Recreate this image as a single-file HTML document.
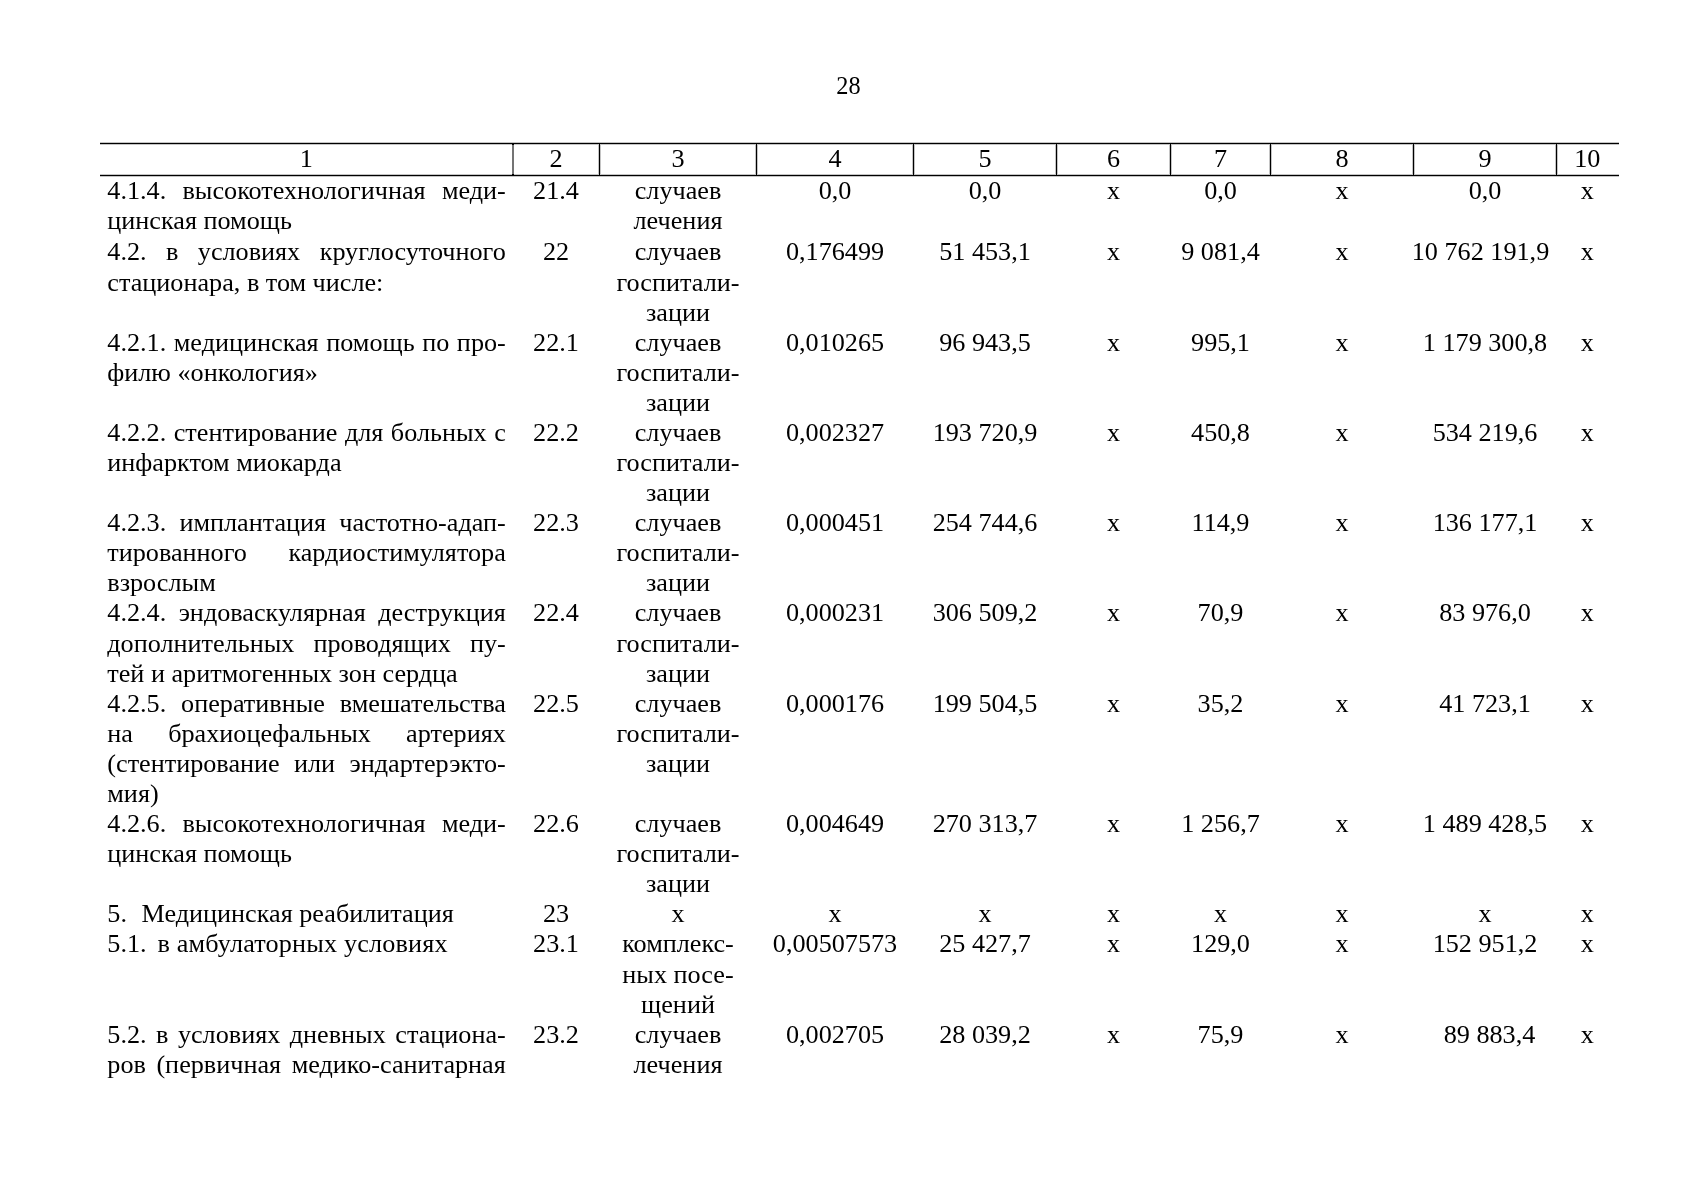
<!DOCTYPE html>
<html><head><meta charset="utf-8"><style>
html,body{margin:0;padding:0;background:#fff;}
body{width:1697px;height:1200px;position:relative;overflow:hidden;}
#pg{position:absolute;left:0;top:0;width:1697px;height:1200px;will-change:transform;}
.t{position:absolute;font-family:"Liberation Serif",serif;font-size:26.2px;line-height:30.09px;height:30.09px;color:#000;white-space:nowrap;}
.c{text-align:center;}
.l{text-align:left;}
.j{text-align:justify;text-align-last:justify;white-space:normal;}
.r{position:absolute;background:#000;}
.h{box-shadow:0 -1px 0 #c4c4c4,0 1px 0 #c4c4c4;}
.v{box-shadow:-1px 0 0 #c4c4c4,1px 0 0 #c4c4c4;}
</style></head><body><div id="pg">
<div class="r" style="left:100px;top:142px;width:1519px;height:1px;background:#c4c4c4"></div>
<div class="r" style="left:100px;top:144px;width:1519px;height:1px;background:#c4c4c4"></div>
<div class="r" style="left:100px;top:174px;width:1519px;height:1px;background:#c4c4c4"></div>
<div class="r" style="left:100px;top:176px;width:1519px;height:1px;background:#c4c4c4"></div>
<div class="r" style="left:598px;top:144px;width:1px;height:31px;background:#c4c4c4"></div>
<div class="r" style="left:600px;top:144px;width:1px;height:31px;background:#c4c4c4"></div>
<div class="r" style="left:755px;top:144px;width:1px;height:31px;background:#c4c4c4"></div>
<div class="r" style="left:757px;top:144px;width:1px;height:31px;background:#c4c4c4"></div>
<div class="r" style="left:912px;top:144px;width:1px;height:31px;background:#c4c4c4"></div>
<div class="r" style="left:914px;top:144px;width:1px;height:31px;background:#c4c4c4"></div>
<div class="r" style="left:1055px;top:144px;width:1px;height:31px;background:#c4c4c4"></div>
<div class="r" style="left:1057px;top:144px;width:1px;height:31px;background:#c4c4c4"></div>
<div class="r" style="left:1169px;top:144px;width:1px;height:31px;background:#c4c4c4"></div>
<div class="r" style="left:1171px;top:144px;width:1px;height:31px;background:#c4c4c4"></div>
<div class="r" style="left:1269px;top:144px;width:1px;height:31px;background:#c4c4c4"></div>
<div class="r" style="left:1271px;top:144px;width:1px;height:31px;background:#c4c4c4"></div>
<div class="r" style="left:1412px;top:144px;width:1px;height:31px;background:#c4c4c4"></div>
<div class="r" style="left:1414px;top:144px;width:1px;height:31px;background:#c4c4c4"></div>
<div class="r" style="left:1555px;top:144px;width:1px;height:31px;background:#c4c4c4"></div>
<div class="r" style="left:1557px;top:144px;width:1px;height:31px;background:#c4c4c4"></div>
<div class="r" style="left:100px;top:143px;width:1519px;height:1px"></div>
<div class="r" style="left:100px;top:175px;width:1519px;height:1px"></div>
<div class="r" style="left:512px;top:145px;width:2px;height:29px;background:#747474"></div>
<div class="r" style="left:512px;top:143px;width:2px;height:2px"></div>
<div class="r" style="left:512px;top:174px;width:2px;height:2px"></div>
<div class="r" style="left:599px;top:143px;width:1px;height:33px"></div>
<div class="r" style="left:756px;top:143px;width:1px;height:33px"></div>
<div class="r" style="left:913px;top:143px;width:1px;height:33px"></div>
<div class="r" style="left:1056px;top:143px;width:1px;height:33px"></div>
<div class="r" style="left:1170px;top:143px;width:1px;height:33px"></div>
<div class="r" style="left:1270px;top:143px;width:1px;height:33px"></div>
<div class="r" style="left:1413px;top:143px;width:1px;height:33px"></div>
<div class="r" style="left:1556px;top:143px;width:1px;height:33px"></div>
<div class="t c" style="left:748.50px;top:71.05px;width:200.00px;font-size:24.3px;">28</div>
<div class="t c" style="left:206.25px;top:144.41px;width:200.00px;">1</div>
<div class="t c" style="left:456.00px;top:144.41px;width:200.00px;">2</div>
<div class="t c" style="left:578.00px;top:144.41px;width:200.00px;">3</div>
<div class="t c" style="left:735.00px;top:144.41px;width:200.00px;">4</div>
<div class="t c" style="left:885.00px;top:144.41px;width:200.00px;">5</div>
<div class="t c" style="left:1013.50px;top:144.41px;width:200.00px;">6</div>
<div class="t c" style="left:1120.50px;top:144.41px;width:200.00px;">7</div>
<div class="t c" style="left:1242.00px;top:144.41px;width:200.00px;">8</div>
<div class="t c" style="left:1385.00px;top:144.41px;width:200.00px;">9</div>
<div class="t c" style="left:1487.25px;top:144.41px;width:200.00px;">10</div>
<div class="t j" style="left:107.30px;top:175.66px;width:398.50px;">4.1.4. высокотехнологичная меди-</div>
<div class="t l" style="left:107.30px;top:205.75px;width:398.50px;">цинская помощь</div>
<div class="t c" style="left:456.00px;top:175.66px;width:200.00px;">21.4</div>
<div class="t c" style="left:578.00px;top:175.66px;width:200.00px;">случаев</div>
<div class="t c" style="left:578.00px;top:205.75px;width:200.00px;">лечения</div>
<div class="t c" style="left:685.00px;top:175.66px;width:300.00px;">0,0</div>
<div class="t c" style="left:835.00px;top:175.66px;width:300.00px;">0,0</div>
<div class="t c" style="left:963.50px;top:175.66px;width:300.00px;">х</div>
<div class="t c" style="left:1070.50px;top:175.66px;width:300.00px;">0,0</div>
<div class="t c" style="left:1192.00px;top:175.66px;width:300.00px;">х</div>
<div class="t c" style="left:1335.00px;top:175.66px;width:300.00px;">0,0</div>
<div class="t c" style="left:1437.25px;top:175.66px;width:300.00px;">х</div>
<div class="t j" style="left:107.30px;top:237.41px;width:398.50px;">4.2. в условиях круглосуточного</div>
<div class="t l" style="left:107.30px;top:267.50px;width:398.50px;">стационара, в том числе:</div>
<div class="t c" style="left:456.00px;top:237.41px;width:200.00px;">22</div>
<div class="t c" style="left:578.00px;top:237.41px;width:200.00px;">случаев</div>
<div class="t c" style="left:578.00px;top:267.50px;width:200.00px;">госпитали-</div>
<div class="t c" style="left:578.00px;top:297.59px;width:200.00px;">зации</div>
<div class="t c" style="left:685.00px;top:237.41px;width:300.00px;">0,176499</div>
<div class="t c" style="left:835.00px;top:237.41px;width:300.00px;">51 453,1</div>
<div class="t c" style="left:963.50px;top:237.41px;width:300.00px;">х</div>
<div class="t c" style="left:1070.50px;top:237.41px;width:300.00px;">9 081,4</div>
<div class="t c" style="left:1192.00px;top:237.41px;width:300.00px;">х</div>
<div class="t c" style="left:1330.50px;top:237.41px;width:300.00px;">10 762 191,9</div>
<div class="t c" style="left:1437.25px;top:237.41px;width:300.00px;">х</div>
<div class="t j" style="left:107.30px;top:327.68px;width:398.50px;">4.2.1. медицинская помощь по про-</div>
<div class="t l" style="left:107.30px;top:357.77px;width:398.50px;">филю «онкология»</div>
<div class="t c" style="left:456.00px;top:327.68px;width:200.00px;">22.1</div>
<div class="t c" style="left:578.00px;top:327.68px;width:200.00px;">случаев</div>
<div class="t c" style="left:578.00px;top:357.77px;width:200.00px;">госпитали-</div>
<div class="t c" style="left:578.00px;top:387.86px;width:200.00px;">зации</div>
<div class="t c" style="left:685.00px;top:327.68px;width:300.00px;">0,010265</div>
<div class="t c" style="left:835.00px;top:327.68px;width:300.00px;">96 943,5</div>
<div class="t c" style="left:963.50px;top:327.68px;width:300.00px;">х</div>
<div class="t c" style="left:1070.50px;top:327.68px;width:300.00px;">995,1</div>
<div class="t c" style="left:1192.00px;top:327.68px;width:300.00px;">х</div>
<div class="t c" style="left:1335.00px;top:327.68px;width:300.00px;">1 179 300,8</div>
<div class="t c" style="left:1437.25px;top:327.68px;width:300.00px;">х</div>
<div class="t j" style="left:107.30px;top:417.95px;width:398.50px;">4.2.2. стентирование для больных с</div>
<div class="t l" style="left:107.30px;top:448.04px;width:398.50px;">инфарктом миокарда</div>
<div class="t c" style="left:456.00px;top:417.95px;width:200.00px;">22.2</div>
<div class="t c" style="left:578.00px;top:417.95px;width:200.00px;">случаев</div>
<div class="t c" style="left:578.00px;top:448.04px;width:200.00px;">госпитали-</div>
<div class="t c" style="left:578.00px;top:478.13px;width:200.00px;">зации</div>
<div class="t c" style="left:685.00px;top:417.95px;width:300.00px;">0,002327</div>
<div class="t c" style="left:835.00px;top:417.95px;width:300.00px;">193 720,9</div>
<div class="t c" style="left:963.50px;top:417.95px;width:300.00px;">х</div>
<div class="t c" style="left:1070.50px;top:417.95px;width:300.00px;">450,8</div>
<div class="t c" style="left:1192.00px;top:417.95px;width:300.00px;">х</div>
<div class="t c" style="left:1335.00px;top:417.95px;width:300.00px;">534 219,6</div>
<div class="t c" style="left:1437.25px;top:417.95px;width:300.00px;">х</div>
<div class="t j" style="left:107.30px;top:508.22px;width:398.50px;">4.2.3. имплантация частотно-адап-</div>
<div class="t j" style="left:107.30px;top:538.31px;width:398.50px;">тированного кардиостимулятора</div>
<div class="t l" style="left:107.30px;top:568.40px;width:398.50px;">взрослым</div>
<div class="t c" style="left:456.00px;top:508.22px;width:200.00px;">22.3</div>
<div class="t c" style="left:578.00px;top:508.22px;width:200.00px;">случаев</div>
<div class="t c" style="left:578.00px;top:538.31px;width:200.00px;">госпитали-</div>
<div class="t c" style="left:578.00px;top:568.40px;width:200.00px;">зации</div>
<div class="t c" style="left:685.00px;top:508.22px;width:300.00px;">0,000451</div>
<div class="t c" style="left:835.00px;top:508.22px;width:300.00px;">254 744,6</div>
<div class="t c" style="left:963.50px;top:508.22px;width:300.00px;">х</div>
<div class="t c" style="left:1070.50px;top:508.22px;width:300.00px;">114,9</div>
<div class="t c" style="left:1192.00px;top:508.22px;width:300.00px;">х</div>
<div class="t c" style="left:1335.00px;top:508.22px;width:300.00px;">136 177,1</div>
<div class="t c" style="left:1437.25px;top:508.22px;width:300.00px;">х</div>
<div class="t j" style="left:107.30px;top:598.49px;width:398.50px;">4.2.4. эндоваскулярная деструкция</div>
<div class="t j" style="left:107.30px;top:628.58px;width:398.50px;">дополнительных проводящих пу-</div>
<div class="t l" style="left:107.30px;top:658.67px;width:398.50px;">тей и аритмогенных зон сердца</div>
<div class="t c" style="left:456.00px;top:598.49px;width:200.00px;">22.4</div>
<div class="t c" style="left:578.00px;top:598.49px;width:200.00px;">случаев</div>
<div class="t c" style="left:578.00px;top:628.58px;width:200.00px;">госпитали-</div>
<div class="t c" style="left:578.00px;top:658.67px;width:200.00px;">зации</div>
<div class="t c" style="left:685.00px;top:598.49px;width:300.00px;">0,000231</div>
<div class="t c" style="left:835.00px;top:598.49px;width:300.00px;">306 509,2</div>
<div class="t c" style="left:963.50px;top:598.49px;width:300.00px;">х</div>
<div class="t c" style="left:1070.50px;top:598.49px;width:300.00px;">70,9</div>
<div class="t c" style="left:1192.00px;top:598.49px;width:300.00px;">х</div>
<div class="t c" style="left:1335.00px;top:598.49px;width:300.00px;">83 976,0</div>
<div class="t c" style="left:1437.25px;top:598.49px;width:300.00px;">х</div>
<div class="t j" style="left:107.30px;top:688.76px;width:398.50px;">4.2.5. оперативные вмешательства</div>
<div class="t j" style="left:107.30px;top:718.85px;width:398.50px;">на брахиоцефальных артериях</div>
<div class="t j" style="left:107.30px;top:748.94px;width:398.50px;">(стентирование или эндартерэкто-</div>
<div class="t l" style="left:107.30px;top:779.03px;width:398.50px;">мия)</div>
<div class="t c" style="left:456.00px;top:688.76px;width:200.00px;">22.5</div>
<div class="t c" style="left:578.00px;top:688.76px;width:200.00px;">случаев</div>
<div class="t c" style="left:578.00px;top:718.85px;width:200.00px;">госпитали-</div>
<div class="t c" style="left:578.00px;top:748.94px;width:200.00px;">зации</div>
<div class="t c" style="left:685.00px;top:688.76px;width:300.00px;">0,000176</div>
<div class="t c" style="left:835.00px;top:688.76px;width:300.00px;">199 504,5</div>
<div class="t c" style="left:963.50px;top:688.76px;width:300.00px;">х</div>
<div class="t c" style="left:1070.50px;top:688.76px;width:300.00px;">35,2</div>
<div class="t c" style="left:1192.00px;top:688.76px;width:300.00px;">х</div>
<div class="t c" style="left:1335.00px;top:688.76px;width:300.00px;">41 723,1</div>
<div class="t c" style="left:1437.25px;top:688.76px;width:300.00px;">х</div>
<div class="t j" style="left:107.30px;top:809.12px;width:398.50px;">4.2.6. высокотехнологичная меди-</div>
<div class="t l" style="left:107.30px;top:839.21px;width:398.50px;">цинская помощь</div>
<div class="t c" style="left:456.00px;top:809.12px;width:200.00px;">22.6</div>
<div class="t c" style="left:578.00px;top:809.12px;width:200.00px;">случаев</div>
<div class="t c" style="left:578.00px;top:839.21px;width:200.00px;">госпитали-</div>
<div class="t c" style="left:578.00px;top:869.30px;width:200.00px;">зации</div>
<div class="t c" style="left:685.00px;top:809.12px;width:300.00px;">0,004649</div>
<div class="t c" style="left:835.00px;top:809.12px;width:300.00px;">270 313,7</div>
<div class="t c" style="left:963.50px;top:809.12px;width:300.00px;">х</div>
<div class="t c" style="left:1070.50px;top:809.12px;width:300.00px;">1 256,7</div>
<div class="t c" style="left:1192.00px;top:809.12px;width:300.00px;">х</div>
<div class="t c" style="left:1335.00px;top:809.12px;width:300.00px;">1 489 428,5</div>
<div class="t c" style="left:1437.25px;top:809.12px;width:300.00px;">х</div>
<div class="t c" style="left:456.00px;top:899.39px;width:200.00px;">23</div>
<div class="t c" style="left:578.00px;top:899.39px;width:200.00px;">х</div>
<div class="t c" style="left:685.00px;top:899.39px;width:300.00px;">х</div>
<div class="t c" style="left:835.00px;top:899.39px;width:300.00px;">х</div>
<div class="t c" style="left:963.50px;top:899.39px;width:300.00px;">х</div>
<div class="t c" style="left:1070.50px;top:899.39px;width:300.00px;">х</div>
<div class="t c" style="left:1192.00px;top:899.39px;width:300.00px;">х</div>
<div class="t c" style="left:1335.00px;top:899.39px;width:300.00px;">х</div>
<div class="t c" style="left:1437.25px;top:899.39px;width:300.00px;">х</div>
<div class="t c" style="left:456.00px;top:929.48px;width:200.00px;">23.1</div>
<div class="t c" style="left:578.00px;top:929.48px;width:200.00px;">комплекс-</div>
<div class="t c" style="left:578.00px;top:959.57px;width:200.00px;">ных посе-</div>
<div class="t c" style="left:578.00px;top:989.66px;width:200.00px;">щений</div>
<div class="t c" style="left:685.00px;top:929.48px;width:300.00px;">0,00507573</div>
<div class="t c" style="left:835.00px;top:929.48px;width:300.00px;">25 427,7</div>
<div class="t c" style="left:963.50px;top:929.48px;width:300.00px;">х</div>
<div class="t c" style="left:1070.50px;top:929.48px;width:300.00px;">129,0</div>
<div class="t c" style="left:1192.00px;top:929.48px;width:300.00px;">х</div>
<div class="t c" style="left:1335.00px;top:929.48px;width:300.00px;">152 951,2</div>
<div class="t c" style="left:1437.25px;top:929.48px;width:300.00px;">х</div>
<div class="t j" style="left:107.30px;top:1019.75px;width:398.50px;">5.2. в условиях дневных стациона-</div>
<div class="t j" style="left:107.30px;top:1049.84px;width:398.50px;">ров (первичная медико-санитарная</div>
<div class="t c" style="left:456.00px;top:1019.75px;width:200.00px;">23.2</div>
<div class="t c" style="left:578.00px;top:1019.75px;width:200.00px;">случаев</div>
<div class="t c" style="left:578.00px;top:1049.84px;width:200.00px;">лечения</div>
<div class="t c" style="left:685.00px;top:1019.75px;width:300.00px;">0,002705</div>
<div class="t c" style="left:835.00px;top:1019.75px;width:300.00px;">28 039,2</div>
<div class="t c" style="left:963.50px;top:1019.75px;width:300.00px;">х</div>
<div class="t c" style="left:1070.50px;top:1019.75px;width:300.00px;">75,9</div>
<div class="t c" style="left:1192.00px;top:1019.75px;width:300.00px;">х</div>
<div class="t c" style="left:1339.50px;top:1019.75px;width:300.00px;">89 883,4</div>
<div class="t c" style="left:1437.25px;top:1019.75px;width:300.00px;">х</div>
<div class="t l" style="left:107.30px;top:899.39px;width:100.00px;">5.</div>
<div class="t l" style="left:141.50px;top:899.39px;width:380.00px;">Медицинская реабилитация</div>
<div class="t l" style="left:107.30px;top:929.48px;width:100.00px;">5.1.</div>
<div class="t l" style="left:157.50px;top:929.48px;width:380.00px;letter-spacing:0.17px;">в амбулаторных условиях</div>
</div></body></html>
